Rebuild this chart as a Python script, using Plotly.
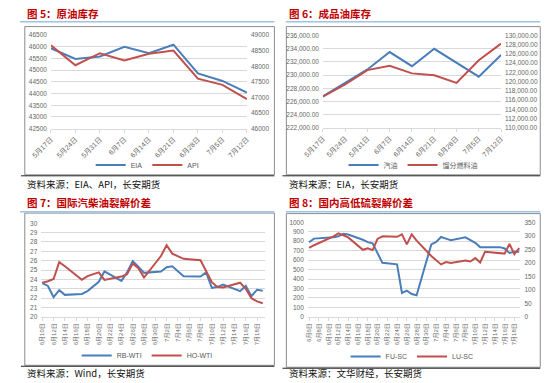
import plotly.graph_objects as go

W, H = 550, 383


def fx(p):
    return p / W


def fy(p):
    return 1 - p / H


# ---------------- data ----------------
weeks = ["5月17日", "5月24日", "5月31日", "6月7日", "6月14日", "6月21日", "6月28日", "7月5日", "7月12日"]
eia = [45940, 45480, 45590, 46000, 45730, 46090, 44860, 44540, 44040]
api = [48675, 48035, 48420, 48190, 48400, 48505, 47605, 47405, 46945]

gasoline = [226800, 228870, 230850, 233480, 231350, 233970, 231840, 229760, 233030]
distillate = [116780, 119400, 122510, 123430, 121800, 121380, 119750, 124630, 128230]

crack_dates = ["2024-06-10", "2024-06-11", "2024-06-12", "2024-06-13", "2024-06-14",
               "2024-06-17", "2024-06-18", "2024-06-20", "2024-06-21", "2024-06-24",
               "2024-06-25", "2024-06-26", "2024-06-27", "2024-06-28", "2024-07-01",
               "2024-07-02", "2024-07-03", "2024-07-05", "2024-07-08", "2024-07-09",
               "2024-07-10", "2024-07-11", "2024-07-12", "2024-07-15", "2024-07-16",
               "2024-07-17", "2024-07-18", "2024-07-19"]
rb_wti = [23.6, 23.3, 22.1, 22.85, 22.35, 22.45, 22.75, 23.75, 24.85, 23.85,
          24.75, 25.95, 25.35, 24.7, 24.85, 25.3, 25.4, 24.35, 24.3, 24.75,
          23.1, 23.2, 23.45, 22.75, 23.3, 22.2, 22.9, 22.8]
ho_wti = [23.65, 23.8, 24.05, 25.85, 25.4, 23.95, 24.35, 24.75, 23.95, 24.3,
          24.55, 25.7, 25.2, 24.2, 26.5, 27.65, 26.75, 26.2, 26.05, 24.8,
          23.7, 23.2, 23.15, 23.65, 23.0, 22.0, 21.65, 21.45]

sulfur_dates = ["2024-06-06", "2024-06-07", "2024-06-11", "2024-06-12", "2024-06-13",
                "2024-06-14", "2024-06-17", "2024-06-18", "2024-06-19", "2024-06-20",
                "2024-06-21", "2024-06-24", "2024-06-25", "2024-06-26", "2024-06-27",
                "2024-06-28", "2024-07-01", "2024-07-02", "2024-07-03", "2024-07-04",
                "2024-07-05", "2024-07-08", "2024-07-09", "2024-07-10", "2024-07-11",
                "2024-07-12", "2024-07-15", "2024-07-16", "2024-07-17", "2024-07-18",
                "2024-07-19"]
fu_sc = [789, 827, 841, 851, 879, 870, 815, 790, 778, 678,
         571, 555, 253, 277, 242, 228, 765, 792, 844, 827,
         810, 841, 810, 782, 737, 737, 737, 723, 675, 689, 689]
lu_sc = [255, 265, 298, 309, 302, 294, 248, 254, 247, 288,
         298, 296, 305, 268, 305, 282, 225, 210, 194, 203,
         199, 208, 205, 218, 201, 241, 235, 234, 270, 232, 254]

titles = ["图 5：原油库存", "图 6：成品油库存", "图 7：国际汽柴油裂解价差", "图 8：国内高低硫裂解价差"]
sources = ["资料来源：EIA、API，长安期货", "资料来源：EIA，长安期货",
           "资料来源：Wind，长安期货", "资料来源：文华财经，长安期货"]

# ---------------- style ----------------
BLUE = "#4A7EBB"
RED = "#C0504D"
GRID = "#D9D9D9"
TICKC = "#666666"
FONT = "Liberation Sans, Noto Sans CJK SC"
tickfont = dict(family=FONT, size=6.5, color=TICKC)

fig = go.Figure()

# Chart 5
fig.add_trace(go.Scatter(x=weeks, y=eia, name="EIA", mode="lines",
                         line=dict(color=BLUE, width=2), xaxis="x", yaxis="y", legend="legend"))
fig.add_trace(go.Scatter(x=weeks, y=api, name="API", mode="lines",
                         line=dict(color=RED, width=2), xaxis="x", yaxis="y2", legend="legend"))
# Chart 6
fig.add_trace(go.Scatter(x=weeks, y=gasoline, name="汽油", mode="lines",
                         line=dict(color=BLUE, width=2), xaxis="x2", yaxis="y3", legend="legend2"))
fig.add_trace(go.Scatter(x=weeks, y=distillate, name="馏分燃料油", mode="lines",
                         line=dict(color=RED, width=2), xaxis="x2", yaxis="y4", legend="legend2"))
# Chart 7
fig.add_trace(go.Scatter(x=crack_dates, y=rb_wti, name="RB-WTI", mode="lines",
                         line=dict(color=BLUE, width=2), xaxis="x3", yaxis="y5", legend="legend3"))
fig.add_trace(go.Scatter(x=crack_dates, y=ho_wti, name="HO-WTI", mode="lines",
                         line=dict(color=RED, width=2), xaxis="x3", yaxis="y5", legend="legend3"))
# Chart 8
fig.add_trace(go.Scatter(x=sulfur_dates, y=fu_sc, name="FU-SC", mode="lines",
                         line=dict(color=BLUE, width=2), xaxis="x4", yaxis="y6", legend="legend4"))
fig.add_trace(go.Scatter(x=sulfur_dates, y=lu_sc, name="LU-SC", mode="lines",
                         line=dict(color=RED, width=2), xaxis="x4", yaxis="y7", legend="legend4"))


def yax(domain, rng, dtick, fmt, side="left", overlay=None, anchor=None, grid=True):
    d = dict(domain=[fy(domain[1]), fy(domain[0])], range=rng, dtick=dtick, tickformat=fmt,
             side=side, showgrid=grid, gridcolor=GRID, gridwidth=1, zeroline=False,
             showline=False, ticks="", tickfont=tickfont, ticklabelstandoff=3,
             fixedrange=True)
    if overlay:
        d["overlaying"] = overlay
    if anchor:
        d["anchor"] = anchor
    return d


def xcat(domain, anchor, n):
    return dict(domain=[fx(domain[0]), fx(domain[1])], anchor=anchor, type="category",
                range=[0, n - 1], showgrid=False, showline=True, linecolor=GRID, linewidth=1,
                ticks="outside", ticklen=3, tickcolor=GRID, tickangle=-45,
                tickfont=dict(family=FONT, size=7, color=TICKC),
                zeroline=False, fixedrange=True)


def xdate(domain, anchor, rng, tick0):
    return dict(domain=[fx(domain[0]), fx(domain[1])], anchor=anchor, type="date",
                range=rng, dtick=2 * 86400000, tick0=tick0, tickformat="%-m月%-d日",
                showgrid=False, showline=True, linecolor=GRID, linewidth=1,
                ticks="outside", ticklen=3, tickcolor=GRID, tickangle=-90,
                tickfont=dict(family=FONT, size=6, color=TICKC), zeroline=False,
                fixedrange=True)


layout = dict(
    width=W, height=H, margin=dict(l=0, r=0, t=0, b=0),
    paper_bgcolor="white", plot_bgcolor="rgba(0,0,0,0)",
    font=dict(family=FONT),
    xaxis=xcat((32.3, 237.3), "y", len(weeks)),
    yaxis=yax((31.7, 127), [42500, 46500], 500, "d", anchor="x"),
    yaxis2=yax((31.7, 127), [46000, 49000], 500, "d", side="right", overlay="y", anchor="x", grid=False),
    xaxis2=xcat((316.7, 503), "y3", len(weeks)),
    yaxis3=yax((32, 126.3), [222000, 236000], 2000, ",.2f", anchor="x2"),
    yaxis4=yax((32, 126.3), [110000, 130000], 2000, ",.2f", side="right", overlay="y3", anchor="x2", grid=False),
    xaxis3=xdate((22.3, 256), "y5", ["2024-06-09 20:00", "2024-07-19 09:00"], "2024-06-10"),
    yaxis5=yax((223.3, 318.7), [20, 30], 1, "d", anchor="x3"),
    xaxis4=xdate((301, 523.3), "y6", ["2024-06-05 18:00", "2024-07-19 06:00"], "2024-06-06"),
    yaxis6=yax((222.3, 318.7), [0, 1000], 100, "d", anchor="x4"),
    yaxis7=yax((222.3, 318.7), [0, 350], 50, "d", side="right", overlay="y6", anchor="x4", grid=False),
    hovermode=False,
)

legfont = dict(family=FONT, size=7, color="#595959")
for key, (lx, ly) in {"legend": (133, 164), "legend2": (411, 164),
                      "legend3": (133, 358), "legend4": (410, 359)}.items():
    layout[key] = dict(orientation="h", x=fx(lx), y=fy(ly), xanchor="center", yanchor="middle",
                       font=legfont, bgcolor="rgba(0,0,0,0)", itemwidth=30,
                       tracegroupgap=0, itemclick=False)

fig.update_layout(**layout)

# ---------------- frames, titles, sources ----------------
panels = [
    # (title_x, title_y, rule_y, rule_x0, rule_x1, box x0, y0, x1, y1, src_y)
    (5, 10, 18, 0, 266, 5, 23, 266, 174, 183),
    (279, 10, 18, 278, 544, 278.5, 23, 544, 174, 183),
    (5, 202.5, 211.5, 0, 266, 5, 213, 266, 368, 376),
    (279, 202.5, 211.5, 278, 544, 278.5, 213.5, 544, 370, 376),
]
shapes = []
annotations = []
for i, (tx, ty, ry, rx0, rx1, bx0, by0, bx1, by1, sy) in enumerate(panels):
    shapes.append(dict(type="line", xref="paper", yref="paper", x0=fx(rx0), x1=fx(rx1),
                       y0=fy(ry), y1=fy(ry), line=dict(color="#9DC3E6", width=1.5)))
    shapes.append(dict(type="rect", xref="paper", yref="paper", x0=fx(bx0), x1=fx(bx1),
                       y0=fy(by1), y1=fy(by0), line=dict(color="#8C8C8C", width=1), layer="below"))
    shapes.append(dict(type="line", xref="paper", yref="paper", x0=fx(bx0 - 4), x1=fx(bx1),
                       y0=fy(by1 + 1), y1=fy(by1 + 1), line=dict(color="#222222", width=1)))
    annotations.append(dict(text="<b>" + titles[i] + "</b>", xref="paper", yref="paper",
                            x=fx(tx), y=fy(ty), xanchor="left", yanchor="middle", showarrow=False,
                            font=dict(family="Noto Sans CJK SC", size=10.5, color="#C00000")))
    annotations.append(dict(text=sources[i], xref="paper", yref="paper",
                            x=fx(tx), y=fy(sy), xanchor="left", yanchor="middle", showarrow=False,
                            font=dict(family="Noto Sans CJK SC", size=9.5, color="#111111")))

fig.update_layout(shapes=shapes, annotations=annotations)

fig.write_html("out.html",
               config={"displayModeBar": False, "staticPlot": True},
               post_script="document.body.style.margin='0';document.body.style.overflow='hidden';")
